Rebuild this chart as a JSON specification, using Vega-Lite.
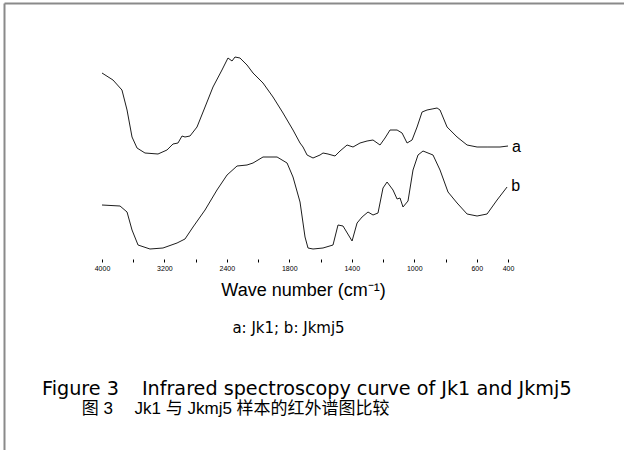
{
  "$schema": "https://vega.github.io/schema/vega-lite/v6.json",
  "width": 620,
  "height": 447,
  "autosize": {"type": "none"},
  "padding": {"left": 4, "top": 3, "right": 0, "bottom": 0},
  "background": "white",
  "config": {
    "view": {"stroke": null},
    "font": "Liberation Sans"
  },
  "title": {
    "text": "Figure 3\u2003\u2009Infrared spectroscopy curve of Jk1 and Jkmj5",
    "subtitle": "\u200B\u2003\u2003\u2004图 3\u2003 Jk1 与 Jkmj5 样本的红外谱图比较",
    "orient": "bottom",
    "anchor": "start",
    "frame": "group",
    "offset": -70,
    "dx": 38,
    "font": "DejaVu Sans",
    "fontSize": 19.2,
    "fontWeight": "normal",
    "color": "black",
    "subtitleFont": "Liberation Sans, Noto Sans CJK SC",
    "subtitleFontSize": 17,
    "subtitleColor": "black",
    "subtitlePadding": 2
  },
  "resolve": {"axis": {"x": "independent"}},
  "datasets": {
    "spectra": [
      {"series": "a", "wn": 4000, "h": 186}, {"series": "a", "wn": 3859, "h": 179}, {"series": "a", "wn": 3744, "h": 169},
      {"series": "a", "wn": 3679, "h": 149}, {"series": "a", "wn": 3615, "h": 122}, {"series": "a", "wn": 3551, "h": 111},
      {"series": "a", "wn": 3449, "h": 106}, {"series": "a", "wn": 3282, "h": 105}, {"series": "a", "wn": 3167, "h": 109},
      {"series": "a", "wn": 3090, "h": 115}, {"series": "a", "wn": 3026, "h": 116}, {"series": "a", "wn": 2974, "h": 123},
      {"series": "a", "wn": 2936, "h": 122}, {"series": "a", "wn": 2872, "h": 123}, {"series": "a", "wn": 2782, "h": 132},
      {"series": "a", "wn": 2679, "h": 152}, {"series": "a", "wn": 2577, "h": 172}, {"series": "a", "wn": 2462, "h": 189},
      {"series": "a", "wn": 2385, "h": 201}, {"series": "a", "wn": 2333, "h": 198}, {"series": "a", "wn": 2295, "h": 202},
      {"series": "a", "wn": 2231, "h": 201}, {"series": "a", "wn": 2141, "h": 194}, {"series": "a", "wn": 2064, "h": 186},
      {"series": "a", "wn": 1968, "h": 176}, {"series": "a", "wn": 1904, "h": 162}, {"series": "a", "wn": 1840, "h": 146},
      {"series": "a", "wn": 1776, "h": 129}, {"series": "a", "wn": 1731, "h": 116}, {"series": "a", "wn": 1712, "h": 112},
      {"series": "a", "wn": 1686, "h": 104}, {"series": "a", "wn": 1648, "h": 101}, {"series": "a", "wn": 1603, "h": 104},
      {"series": "a", "wn": 1584, "h": 106}, {"series": "a", "wn": 1552, "h": 105}, {"series": "a", "wn": 1507, "h": 103},
      {"series": "a", "wn": 1475, "h": 108}, {"series": "a", "wn": 1430, "h": 114}, {"series": "a", "wn": 1392, "h": 112},
      {"series": "a", "wn": 1347, "h": 116}, {"series": "a", "wn": 1302, "h": 118}, {"series": "a", "wn": 1264, "h": 119},
      {"series": "a", "wn": 1219, "h": 114}, {"series": "a", "wn": 1187, "h": 121}, {"series": "a", "wn": 1155, "h": 129},
      {"series": "a", "wn": 1110, "h": 129}, {"series": "a", "wn": 1078, "h": 126}, {"series": "a", "wn": 1046, "h": 116},
      {"series": "a", "wn": 1014, "h": 119}, {"series": "a", "wn": 982, "h": 132}, {"series": "a", "wn": 950, "h": 147},
      {"series": "a", "wn": 918, "h": 149}, {"series": "a", "wn": 886, "h": 150}, {"series": "a", "wn": 854, "h": 151},
      {"series": "a", "wn": 835, "h": 149}, {"series": "a", "wn": 790, "h": 132}, {"series": "a", "wn": 726, "h": 122},
      {"series": "a", "wn": 662, "h": 114}, {"series": "a", "wn": 598, "h": 112}, {"series": "a", "wn": 534, "h": 112},
      {"series": "a", "wn": 451, "h": 112}, {"series": "a", "wn": 400, "h": 113},
      {"series": "b", "wn": 4000, "h": 54}, {"series": "b", "wn": 3769, "h": 53}, {"series": "b", "wn": 3679, "h": 47},
      {"series": "b", "wn": 3615, "h": 29}, {"series": "b", "wn": 3538, "h": 14}, {"series": "b", "wn": 3385, "h": 10},
      {"series": "b", "wn": 3218, "h": 11}, {"series": "b", "wn": 3038, "h": 16}, {"series": "b", "wn": 2936, "h": 20},
      {"series": "b", "wn": 2833, "h": 32}, {"series": "b", "wn": 2679, "h": 49}, {"series": "b", "wn": 2526, "h": 69},
      {"series": "b", "wn": 2397, "h": 84}, {"series": "b", "wn": 2269, "h": 93}, {"series": "b", "wn": 2141, "h": 94},
      {"series": "b", "wn": 2064, "h": 96}, {"series": "b", "wn": 1968, "h": 102}, {"series": "b", "wn": 1878, "h": 102},
      {"series": "b", "wn": 1814, "h": 96}, {"series": "b", "wn": 1776, "h": 82}, {"series": "b", "wn": 1731, "h": 57},
      {"series": "b", "wn": 1699, "h": 22}, {"series": "b", "wn": 1680, "h": 11}, {"series": "b", "wn": 1648, "h": 10},
      {"series": "b", "wn": 1584, "h": 11}, {"series": "b", "wn": 1520, "h": 14}, {"series": "b", "wn": 1488, "h": 34},
      {"series": "b", "wn": 1456, "h": 33}, {"series": "b", "wn": 1398, "h": 18}, {"series": "b", "wn": 1366, "h": 36},
      {"series": "b", "wn": 1334, "h": 42}, {"series": "b", "wn": 1296, "h": 47}, {"series": "b", "wn": 1264, "h": 44},
      {"series": "b", "wn": 1232, "h": 46}, {"series": "b", "wn": 1200, "h": 71}, {"series": "b", "wn": 1174, "h": 77},
      {"series": "b", "wn": 1136, "h": 69}, {"series": "b", "wn": 1110, "h": 60}, {"series": "b", "wn": 1091, "h": 61},
      {"series": "b", "wn": 1072, "h": 52}, {"series": "b", "wn": 1040, "h": 58}, {"series": "b", "wn": 1008, "h": 89},
      {"series": "b", "wn": 976, "h": 104}, {"series": "b", "wn": 944, "h": 108}, {"series": "b", "wn": 912, "h": 106},
      {"series": "b", "wn": 880, "h": 104}, {"series": "b", "wn": 835, "h": 89}, {"series": "b", "wn": 784, "h": 67},
      {"series": "b", "wn": 726, "h": 56}, {"series": "b", "wn": 662, "h": 45}, {"series": "b", "wn": 598, "h": 43},
      {"series": "b", "wn": 534, "h": 45}, {"series": "b", "wn": 470, "h": 59}, {"series": "b", "wn": 406, "h": 72}
    ],
    "tags": [
      {"series": "a", "wn": 374, "h": 112},
      {"series": "b", "wn": 380, "h": 73}
    ]
  },
  "layer": [
    {
      "data": {"name": "spectra"},
      "mark": {"type": "line", "color": "#1e1e1e", "strokeWidth": 1},
      "encoding": {
        "x": {
          "field": "wn",
          "type": "quantitative",
          "scale": {"domain": [5256.41, 2000, -342.4], "range": [0, 254, 620], "nice": false, "zero": false},
          "axis": {
            "orient": "bottom",
            "offset": -191,
            "domain": false,
            "values": [4000, 3600, 3200, 2800, 2400, 2000, 1800, 1600, 1400, 1200, 1000, 800, 600, 400],
            "format": "d",
            "labelExpr": "indexof([4000, 3200, 2400, 1800, 1400, 1000, 600, 400], datum.value) >= 0 ? datum.label : ''",
            "labelFont": "Liberation Sans",
            "labelFontSize": 7,
            "labelColor": "black",
            "labelPadding": 2,
            "labelFlush": false,
            "labelOverlap": false,
            "tickSize": 3,
            "tickColor": "black",
            "grid": false,
            "title": "Wave number (cm⁻¹)",
            "titleFont": "Liberation Sans",
            "titleFontSize": 18,
            "titleFontWeight": "normal",
            "titleColor": "black",
            "titleX": 299,
            "titleY": 31,
            "titleAlign": "center",
            "titleBaseline": "middle"
          }
        },
        "y": {
          "field": "h",
          "type": "quantitative",
          "scale": {"domain": [-191, 256], "nice": false, "zero": false},
          "axis": {
            "orient": "left",
            "domain": true,
            "domainColor": "#8a8a8a",
            "domainWidth": 2,
            "ticks": false,
            "labels": false,
            "grid": false,
            "title": "a: Jk1; b: Jkmj5",
            "titleAngle": 0,
            "titleX": 284,
            "titleY": 324,
            "titleAlign": "center",
            "titleBaseline": "middle",
            "titleFont": "DejaVu Sans",
            "titleFontSize": 15,
            "titleFontWeight": "normal",
            "titleColor": "black"
          }
        },
        "detail": {"field": "series"}
      }
    },
    {
      "mark": {"type": "rule", "color": "black", "strokeWidth": 1},
      "encoding": {
        "x": {
          "datum": 4000,
          "type": "quantitative",
          "axis": {
            "orient": "top",
            "domain": true,
            "domainColor": "#8a8a8a",
            "domainWidth": 2,
            "ticks": false,
            "labels": false,
            "grid": false,
            "title": null
          }
        },
        "x2": {"datum": 400},
        "y": {"datum": 0, "type": "quantitative"}
      }
    },
    {
      "data": {"name": "tags"},
      "mark": {"type": "text", "align": "left", "baseline": "middle", "fontSize": 16, "color": "black", "font": "Liberation Sans"},
      "encoding": {
        "x": {"field": "wn", "type": "quantitative", "axis": null},
        "y": {"field": "h", "type": "quantitative"},
        "text": {"field": "series"}
      }
    }
  ]
}
